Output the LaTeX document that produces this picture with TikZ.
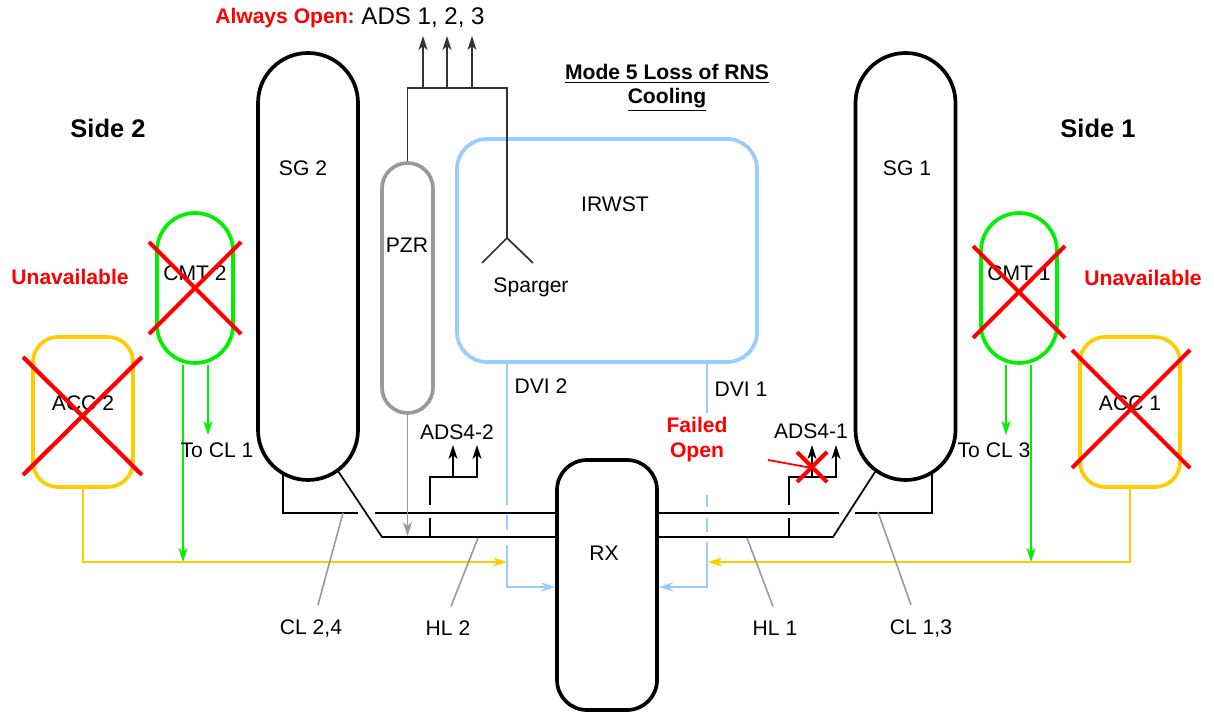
\documentclass[tikz,border=0pt]{standalone}
\usepackage{fontspec}
\setmainfont{Liberation Sans}
\usetikzlibrary{arrows.meta,calc,positioning}
\definecolor{irwstblue}{RGB}{153,204,255}
\definecolor{accyellow}{RGB}{255,204,0}
\definecolor{cmtgreen}{RGB}{0,240,0}
\definecolor{pzrgray}{RGB}{153,153,153}
\definecolor{adsgray}{RGB}{51,51,51}
\tikzset{%
	vessel/.style  = {draw, rectangle, inner sep=0pt, line width=2.1pt},
	pipe/.style    = {line width=1pt},
	tip/.style     = {-{Stealth[length=2.8mm,width=1.8mm,inset=0.8mm]}},
	flow/.style    = {line width=1.3pt, tip},
	cross/.style   = {red, line width=2.4pt},
	leader/.style  = {pzrgray, line width=0.9pt},
	lbl/.style     = {inner sep=0pt, font=\fontsize{12}{14.2}\selectfont},
	redlbl/.style  = {inner sep=0pt, text=red, align=center, font=\fontsize{12}{14.2}\selectfont\bfseries},
	sidelbl/.style = {inner sep=0pt, font=\fontsize{14.5}{17}\selectfont\bfseries},
}

\begin{document}
\begin{tikzpicture}[x=0.2mm, y=-0.2mm]
		\useasboundingbox (0,0) rectangle (1214,713);
		
		% vessels
		\node[vessel, minimum width=20mm, minimum height=85.4mm, rounded corners=10mm] (sgii) at (308,266.5) {};
		\node[vessel, minimum width=20mm, minimum height=85.4mm, rounded corners=10mm] (sgi) at (905.5,266.5) {};
		\node[vessel, minimum width=20mm, minimum height=50mm, rounded corners=6mm] (rx) at (607,585) {};
		\node[vessel, draw=pzrgray, minimum width=10.2mm, minimum height=50mm, rounded corners=5.1mm] (pzr) at (407.5,288) {};
		\node[vessel, draw=irwstblue, minimum width=60mm, minimum height=44.6mm, rounded corners=6mm] (irwst) at (607,250.5) {};
		\node[vessel, draw=cmtgreen, minimum width=15.2mm, minimum height=30mm, rounded corners=7.6mm] (cmtii) at (195,288) {};
		\node[vessel, draw=cmtgreen, minimum width=15.2mm, minimum height=30mm, rounded corners=7.6mm] (cmti) at (1019,288) {};
		\node[vessel, draw=accyellow, minimum width=20mm, minimum height=30mm, rounded corners=5mm] (accii) at (83,412) {};
		\node[vessel, draw=accyellow, minimum width=20mm, minimum height=30mm, rounded corners=5mm] (acci) at (1130,412) {};
		
		% vessel texts
		\node[lbl] (sgiitxt) at (303,168) {SG 2};
		\node[lbl] (sgitxt) at (907,168) {SG 1};
		\node[lbl] (rxtxt) at (604,553) {RX};
		\node[lbl] (pzrtxt) at (407,245) {PZR};
		\node[lbl] (irwsttxt) at (615,204) {IRWST};
		\node[lbl] (cmtiitxt) at (195,273) {CMT 2};
		\node[lbl] (cmtitxt) at (1019,273) {CMT 1};
		\node[lbl] (acciitxt) at (83,403) {ACC 2};
		\node[lbl] (accitxt) at (1130,403) {ACC 1};
		
		% ADS 1,2,3 and sparger
		\draw[adsgray, pipe] (pzr.north) |- (507,88) -- (507,238) coordinate (sparge);
		\draw[adsgray, pipe] (482,263) -- (sparge) -- (533,263);
		\foreach \x in {423,447,472}
			\draw[adsgray, pipe, tip] (\x,88) -- (\x,36);
		\node[lbl] (sparger) at (531,287) {Sparger};
		
		% side 2 loops
		\draw[pipe] (283,473) |- (358,513);
		\draw[pipe] (375,513) -- (rx.west |- 0,513);
		\draw[pipe] (338,471) -- (382,537) -- (rx.west |- 0,537);
		\draw[pzrgray, pipe, tip] (pzr.south) -- (pzr.south |- 0,536);
		\draw[pipe] (430,537) -- (430,518);
		\draw[pipe, tip] (430,505) |- (477,477) -- (477,445);
		\draw[pipe, tip] (453,477) -- (453,445);
		\node[lbl] (adsivii) at (457,432) {ADS4-2};
		
		% side 1 loops
		\draw[pipe] (932,473) |- (855,513);
		\draw[pipe] (839,513) -- (rx.east |- 0,513);
		\draw[pipe] (875,472) -- (833,537) -- (rx.east |- 0,537);
		\draw[pipe] (789,537) -- (789,518);
		\draw[pipe, tip] (789,505) |- (836,477) -- (836,445);
		\draw[pipe, tip] (812,477) -- (812,445);
		\node[lbl] (adsivi) at (811,431) {ADS4-1};
		\draw[cross] (797,452) -- (827,482);
		\draw[cross] (827,452) -- (797,482);
		\draw[red, line width=1pt] (768,460) -- (812,468);
		
		% DVI lines
		\draw[irwstblue, line width=1.3pt] (irwst.south -| 507,0) -- (507,505);
		\draw[irwstblue, line width=1.3pt] (507,515) -- (507,530);
		\draw[irwstblue, flow] (507,545) |- (rx.west |- 0,587);
		\draw[irwstblue, line width=1.3pt] (irwst.south -| 707,0) -- (707,413);
		\draw[irwstblue, line width=1.3pt] (707,495) -- (707,507);
		\draw[irwstblue, line width=1.3pt] (707,518) -- (707,532);
		\draw[irwstblue, flow] (707,542) |- (rx.east |- 0,587);
		\node[lbl] (dviii) at (541,386) {DVI 2};
		\node[lbl] (dvii) at (741,389) {DVI 1};
		
		% accumulators and CMTs
		\draw[accyellow, flow] (accii.south) |- (507,562);
		\draw[accyellow, flow] (acci.south) |- (708,562);
		\draw[cmtgreen, flow] (cmtii.south -| 183,0) -- (183,562);
		\draw[cmtgreen, flow] (cmtii.south -| 208,0) -- (208,435);
		\draw[cmtgreen, flow] (cmti.south -| 1006,0) -- (1006,435);
		\draw[cmtgreen, flow] (cmti.south -| 1031,0) -- (1031,562);
		\node[lbl] (tocli) at (217,450) {To CL 1};
		\node[lbl] (tocliii) at (994,450) {To CL 3};
		
		% unavailable
		\draw[cross] ($(cmtii)+(-46,-46)$) -- ($(cmtii)+(46,46)$);
		\draw[cross] ($(cmtii)+(46,-46)$) -- ($(cmtii)+(-46,46)$);
		\draw[cross] ($(cmti)+(-46,-42)$) -- ($(cmti)+(46,50)$);
		\draw[cross] ($(cmti)+(46,-42)$) -- ($(cmti)+(-46,50)$);
		\draw[cross] ($(accii)+(-60,-55)$) -- ($(accii)+(59,63)$);
		\draw[cross] ($(accii)+(59,-55)$) -- ($(accii)+(-60,63)$);
		\draw[cross] ($(acci)+(-58,-62)$) -- ($(acci)+(60,56)$);
		\draw[cross] ($(acci)+(60,-62)$) -- ($(acci)+(-58,56)$);
		
		% line labels
		\node[lbl] (clxxiv) at (311,628) {CL 2,4};
		\node[lbl] (hlii) at (448,628) {HL 2};
		\node[lbl] (hli) at (775,628) {HL 1};
		\node[lbl] (clxiii) at (921,628) {CL 1,3};
		\draw[leader] (343,513) -- ($(clxxiv.north)+(7,-14)$);
		\draw[leader] (478,538) -- ($(hlii.north)+(3,-14)$);
		\draw[leader] (747,538) -- ($(hli.north)+(-2,-14)$);
		\draw[leader] (878,512) -- ($(clxiii.north)+(-10,-14)$);
		
		% headings
		\node[sidelbl] (sideii) at (108,128) {Side 2};
		\node[sidelbl] (sidei) at (1098,128) {Side 1};
		\node[redlbl] (unavii) at (70,277) {Unavailable};
		\node[redlbl] (unavi) at (1143,278) {Unavailable};
		\node[redlbl] (always) at (285,18) {Always Open:};
		\node[inner sep=0pt, font=\fontsize{13.7}{16}\selectfont] (adsiii) at (423,18) {ADS 1, 2, 3};
		\node[inner sep=0pt, align=center, font=\fontsize{12}{13.7}\selectfont\bfseries] (mode) at (667,88) {\underline{Mode 5 Loss of RNS}\\\underline{Cooling}};
		\node[redlbl] (failed) at (697,440) {Failed\\Open};
\end{tikzpicture}
\end{document}
